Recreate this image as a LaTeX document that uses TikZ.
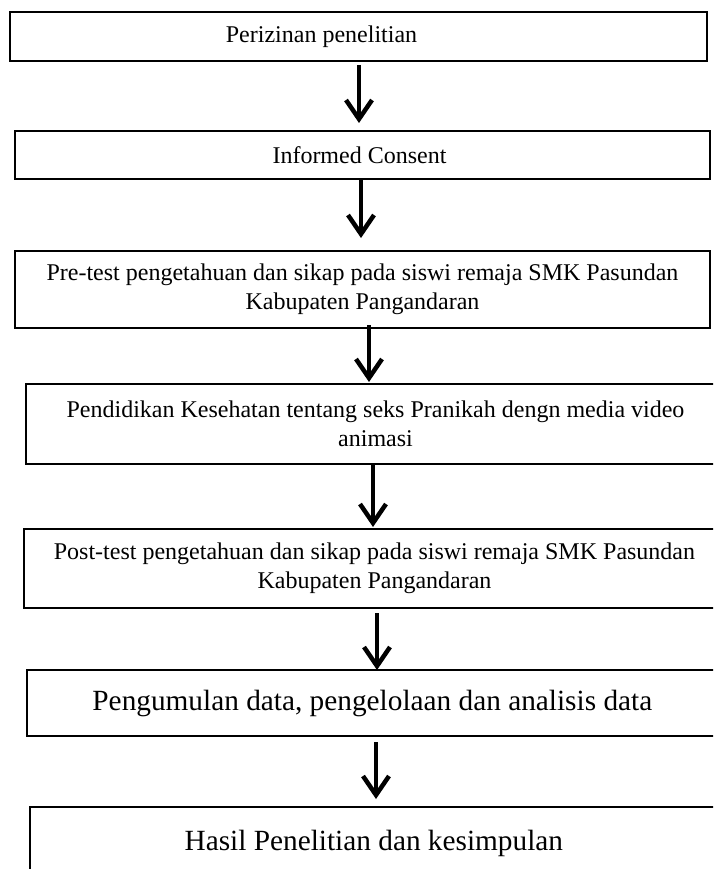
\documentclass[tikz,border=0pt]{standalone}
\usepackage{fontspec}
\setmainfont{Liberation Serif}
\usetikzlibrary{positioning,arrows.meta}
\tikzset{
thick,
every node/.style={inner sep=0pt, outer sep=0pt},
flow/.style={line width=4.5pt, -{Straight Barb[length=19pt,width=26pt]}},
}

\begin{document}
\begin{tikzpicture}
    [x=1pt, y=-1pt,
    block/.style={draw, line width=2.6pt, rectangle, align=center,
        font=\fontsize{24}{29}\selectfont},
    bigblock/.style={block, font=\fontsize{29.3}{34}\selectfont}
    ]
    \useasboundingbox (0,0) rectangle (713,869);
    \clip (0,0) rectangle (713,869);

    \node [block, minimum width=697pt, minimum height=49pt] (izin) at (358.5,36.5)
    {
        Perizinan penelitian\hspace{68pt}
    };

    \node [block, minimum width=695pt, minimum height=48pt] (consent) at (362.5,155)
    {
        Informed Consent
    };

    \node [block, minimum width=695pt, minimum height=77pt] (pre) at (362.5,289.5)
    {
        Pre-test pengetahuan dan sikap pada siswi remaja SMK Pasundan
        \\
        Kabupaten Pangandaran
    };

    \node [block, minimum width=699pt, minimum height=80pt] (edukasi) at (375.5,424)
    {
        Pendidikan Kesehatan tentang seks Pranikah dengn media video
        \\
        animasi
    };

    \node [block, minimum width=701pt, minimum height=79pt] (post) at (374.5,568.5)
    {
        Post-test pengetahuan dan sikap pada siswi remaja SMK Pasundan
        \\
        Kabupaten Pangandaran
    };

    \node [bigblock, minimum width=698pt, minimum height=66pt] (data) at (376,703)
    {
        Pengumulan data, pengelolaan dan analisis data
    };

    \node [bigblock, minimum width=695pt, minimum height=73pt] (hasil) at (377.5,843.5)
    {
        Hasil Penelitian dan kesimpulan
    };

    \draw[flow] ([xshift=0.5pt,yshift=-4pt]izin.south) -- ([xshift=-3.5pt,yshift=8pt]consent.north);
    \draw[flow] ([xshift=-1.5pt]consent.south) -- ([xshift=-1.5pt,yshift=13pt]pre.north);
    \draw[flow] ([xshift=6.5pt,yshift=3pt]pre.south) -- ([xshift=-6.5pt,yshift=2pt]edukasi.north);
    \draw[flow] ([xshift=-2.5pt]edukasi.south) -- ([xshift=-1.5pt,yshift=2pt]post.north);
    \draw[flow] ([xshift=2.5pt,yshift=-5pt]post.south) -- ([xshift=1pt]data.north);
    \draw[flow] ([yshift=-6pt]data.south) -- ([xshift=-1.5pt,yshift=8pt]hasil.north);

\end{tikzpicture}
\end{document}
